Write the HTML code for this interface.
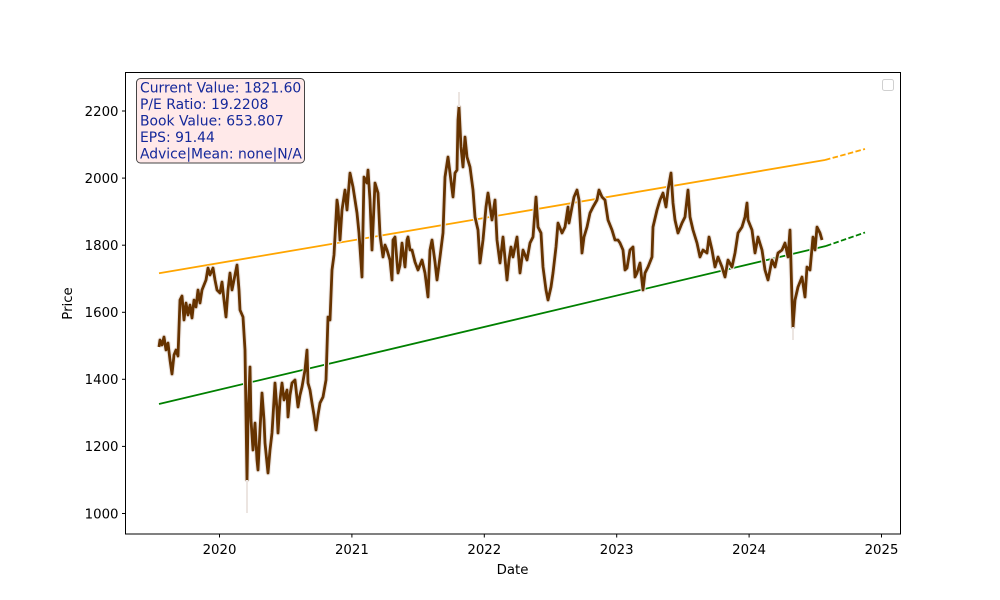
<!DOCTYPE html>
<html>
<head>
<meta charset="utf-8">
<style>
html,body{margin:0;padding:0;background:#fff;}
svg{display:block;}
text{font-family:"DejaVu Sans","Liberation Sans",sans-serif;}
</style>
</head>
<body>
<svg width="1000" height="600" viewBox="0 0 1000 600" xmlns="http://www.w3.org/2000/svg">
<rect x="0" y="0" width="1000" height="600" fill="#fff"/>
<defs>
<clipPath id="c"><rect x="125.5" y="72.5" width="775" height="461.5"/></clipPath>
</defs>
<g clip-path="url(#c)">
<!-- trend lines -->
<line x1="159" y1="273.3" x2="825" y2="160" stroke="#ffa500" stroke-width="1.8"/>
<line x1="825" y1="160" x2="865" y2="149" stroke="#ffa500" stroke-width="1.8" stroke-dasharray="5.5 2.4"/>
<line x1="159" y1="404" x2="826" y2="246" stroke="#008000" stroke-width="1.8"/>
<line x1="826" y1="246" x2="865" y2="232.5" stroke="#008000" stroke-width="1.8" stroke-dasharray="5.5 2.4"/>
<!-- price -->
<polyline fill="none" stroke="#ece5e1" stroke-width="5" stroke-linejoin="round" points="159,347 160,340 162,345 164,337 166,350 168,343 170,360 172,374 174,355 176,350 178,356 180,300 182,296 184,320 186,303 188,315 190,305 192,318 194,300 196,307 198,290 200,303 202,290 204,285 206,280 208,268 210,275 213,268 215,280 217,290 220,293 222,282 224,300 226,317 228,290 230,273 232,290 234,280 237,265 239,290 240,310 243,317 245,350 247,480 248,420 250,367 251,420 253,450 255,423 257,460 258,470 260,430 262,393 264,420 265,443 268,473 270,450 272,433 274,400 275,383 277,410 278,433 280,400 282,383 284,400 287,390 288,417 290,395 292,383 295,380 298,407 300,395 302,387 305,370 307,350 308,383 310,390 312,403 314,415 316,430 318,415 320,403 323,397 326,380 328,317 330,320 332,270 334,255 337,200 338,207 340,240 342,210 345,190 347,210 350,173 353,187 355,200 357,213 359,233 362,277 364,177 367,183 368,170 370,200 372,250 375,183 378,193 380,235 383,257 385,245 387,250 390,260 392,280 393,240 395,237 397,262 398,273 400,265 402,243 405,267 407,240 408,237 410,250 412,250 415,262 418,270 420,265 422,260 425,273 428,297 430,250 432,240 435,262 437,280 440,257 443,233 445,177 448,157 450,173 453,197 455,173 457,170 458,120 459,107 461,147 463,167 465,137 467,157 470,167 473,190 475,217 478,230 480,263 483,240 486,207 488,193 492,220 495,200 497,240 500,263 503,237 507,280 509,260 511,247 513,257 517,237 520,273 523,250 527,260 530,243 533,237 536,197 538,227 541,233 543,267 546,290 548,300 551,287 553,273 556,247 558,223 562,233 565,227 568,207 569,223 572,207 574,197 577,190 579,200 582,253 584,237 587,227 590,213 593,207 597,200 599,190 602,197 605,200 608,220 612,230 615,240 618,240 620,243 623,250 625,270 627,268 630,250 633,247 635,277 637,273 640,263 643,290 645,273 648,267 652,257 653,227 657,210 660,200 663,193 666,207 668,190 671,173 673,203 675,220 678,233 682,223 685,217 688,190 690,217 693,230 697,243 700,257 703,250 707,253 709,237 712,250 715,267 718,257 722,267 725,277 728,260 732,267 735,253 738,233 742,227 745,217 747,203 748,220 752,230 755,253 758,237 762,250 765,270 768,280 772,260 775,267 778,253 782,250 785,243 788,257 790,230 792,300 793,327 795,300 798,287 802,277 805,297 807,267 810,270 813,237 815,250 817,227 820,233 822,240"/>
<polyline fill="none" stroke="#663300" stroke-width="2.8" stroke-linejoin="round" points="159,347 160,340 162,345 164,337 166,350 168,343 170,360 172,374 174,355 176,350 178,356 180,300 182,296 184,320 186,303 188,315 190,305 192,318 194,300 196,307 198,290 200,303 202,290 204,285 206,280 208,268 210,275 213,268 215,280 217,290 220,293 222,282 224,300 226,317 228,290 230,273 232,290 234,280 237,265 239,290 240,310 243,317 245,350 247,480 248,420 250,367 251,420 253,450 255,423 257,460 258,470 260,430 262,393 264,420 265,443 268,473 270,450 272,433 274,400 275,383 277,410 278,433 280,400 282,383 284,400 287,390 288,417 290,395 292,383 295,380 298,407 300,395 302,387 305,370 307,350 308,383 310,390 312,403 314,415 316,430 318,415 320,403 323,397 326,380 328,317 330,320 332,270 334,255 337,200 338,207 340,240 342,210 345,190 347,210 350,173 353,187 355,200 357,213 359,233 362,277 364,177 367,183 368,170 370,200 372,250 375,183 378,193 380,235 383,257 385,245 387,250 390,260 392,280 393,240 395,237 397,262 398,273 400,265 402,243 405,267 407,240 408,237 410,250 412,250 415,262 418,270 420,265 422,260 425,273 428,297 430,250 432,240 435,262 437,280 440,257 443,233 445,177 448,157 450,173 453,197 455,173 457,170 458,120 459,107 461,147 463,167 465,137 467,157 470,167 473,190 475,217 478,230 480,263 483,240 486,207 488,193 492,220 495,200 497,240 500,263 503,237 507,280 509,260 511,247 513,257 517,237 520,273 523,250 527,260 530,243 533,237 536,197 538,227 541,233 543,267 546,290 548,300 551,287 553,273 556,247 558,223 562,233 565,227 568,207 569,223 572,207 574,197 577,190 579,200 582,253 584,237 587,227 590,213 593,207 597,200 599,190 602,197 605,200 608,220 612,230 615,240 618,240 620,243 623,250 625,270 627,268 630,250 633,247 635,277 637,273 640,263 643,290 645,273 648,267 652,257 653,227 657,210 660,200 663,193 666,207 668,190 671,173 673,203 675,220 678,233 682,223 685,217 688,190 690,217 693,230 697,243 700,257 703,250 707,253 709,237 712,250 715,267 718,257 722,267 725,277 728,260 732,267 735,253 738,233 742,227 745,217 747,203 748,220 752,230 755,253 758,237 762,250 765,270 768,280 772,260 775,267 778,253 782,250 785,243 788,257 790,230 792,300 793,327 795,300 798,287 802,277 805,297 807,267 810,270 813,237 815,250 817,227 820,233 822,240"/>
<!-- faint spikes -->
<line x1="247" y1="480" x2="247" y2="513" stroke="#ece5e1" stroke-width="2"/>
<line x1="459" y1="107" x2="459" y2="92" stroke="#ece5e1" stroke-width="2"/>
<line x1="793" y1="327" x2="793" y2="340" stroke="#ece5e1" stroke-width="2"/>
</g>
<!-- axes frame -->
<rect x="125.5" y="72.5" width="775" height="461.5" fill="none" stroke="#000" stroke-width="1"/>
<!-- ticks -->
<g stroke="#000" stroke-width="1">
<line x1="122" y1="513.5" x2="125.5" y2="513.5"/>
<line x1="122" y1="446.4" x2="125.5" y2="446.4"/>
<line x1="122" y1="379.3" x2="125.5" y2="379.3"/>
<line x1="122" y1="312.3" x2="125.5" y2="312.3"/>
<line x1="122" y1="245.2" x2="125.5" y2="245.2"/>
<line x1="122" y1="178.1" x2="125.5" y2="178.1"/>
<line x1="122" y1="111" x2="125.5" y2="111"/>
<line x1="219.5" y1="534" x2="219.5" y2="537.5"/>
<line x1="351.9" y1="534" x2="351.9" y2="537.5"/>
<line x1="484.3" y1="534" x2="484.3" y2="537.5"/>
<line x1="616.7" y1="534" x2="616.7" y2="537.5"/>
<line x1="749.1" y1="534" x2="749.1" y2="537.5"/>
<line x1="881.5" y1="534" x2="881.5" y2="537.5"/>
</g>
<g font-size="13.3" fill="#000" text-anchor="end">
<text x="118.5" y="518.3">1000</text>
<text x="118.5" y="451.2">1200</text>
<text x="118.5" y="384.1">1400</text>
<text x="118.5" y="317.1">1600</text>
<text x="118.5" y="250">1800</text>
<text x="118.5" y="182.9">2000</text>
<text x="118.5" y="115.8">2200</text>
</g>
<g font-size="13.3" fill="#000" text-anchor="middle">
<text x="219.5" y="554">2020</text>
<text x="351.9" y="554">2021</text>
<text x="484.3" y="554">2022</text>
<text x="616.7" y="554">2023</text>
<text x="749.1" y="554">2024</text>
<text x="881.5" y="554">2025</text>
<text x="512.5" y="574">Date</text>
</g>
<text x="0" y="0" font-size="13.3" fill="#000" text-anchor="middle" transform="translate(72,303.5) rotate(-90)">Price</text>
<!-- info box -->
<rect x="136.5" y="78.5" width="168" height="84.5" rx="4" ry="4" fill="#ffe9e9" stroke="#444" stroke-width="1"/>
<g font-size="13.9" fill="#14289a">
<text x="140" y="92.5">Current Value: 1821.60</text>
<text x="140" y="109">P/E Ratio: 19.2208</text>
<text x="140" y="125.5">Book Value: 653.807</text>
<text x="140" y="142">EPS: 91.44</text>
<text x="140" y="158.5">Advice|Mean: none|N/A</text>
</g>
<!-- empty legend -->
<rect x="882.5" y="79.5" width="11" height="11" rx="2" ry="2" fill="#fff" stroke="#d0d0d0" stroke-width="1"/>
</svg>
</body>
</html>
